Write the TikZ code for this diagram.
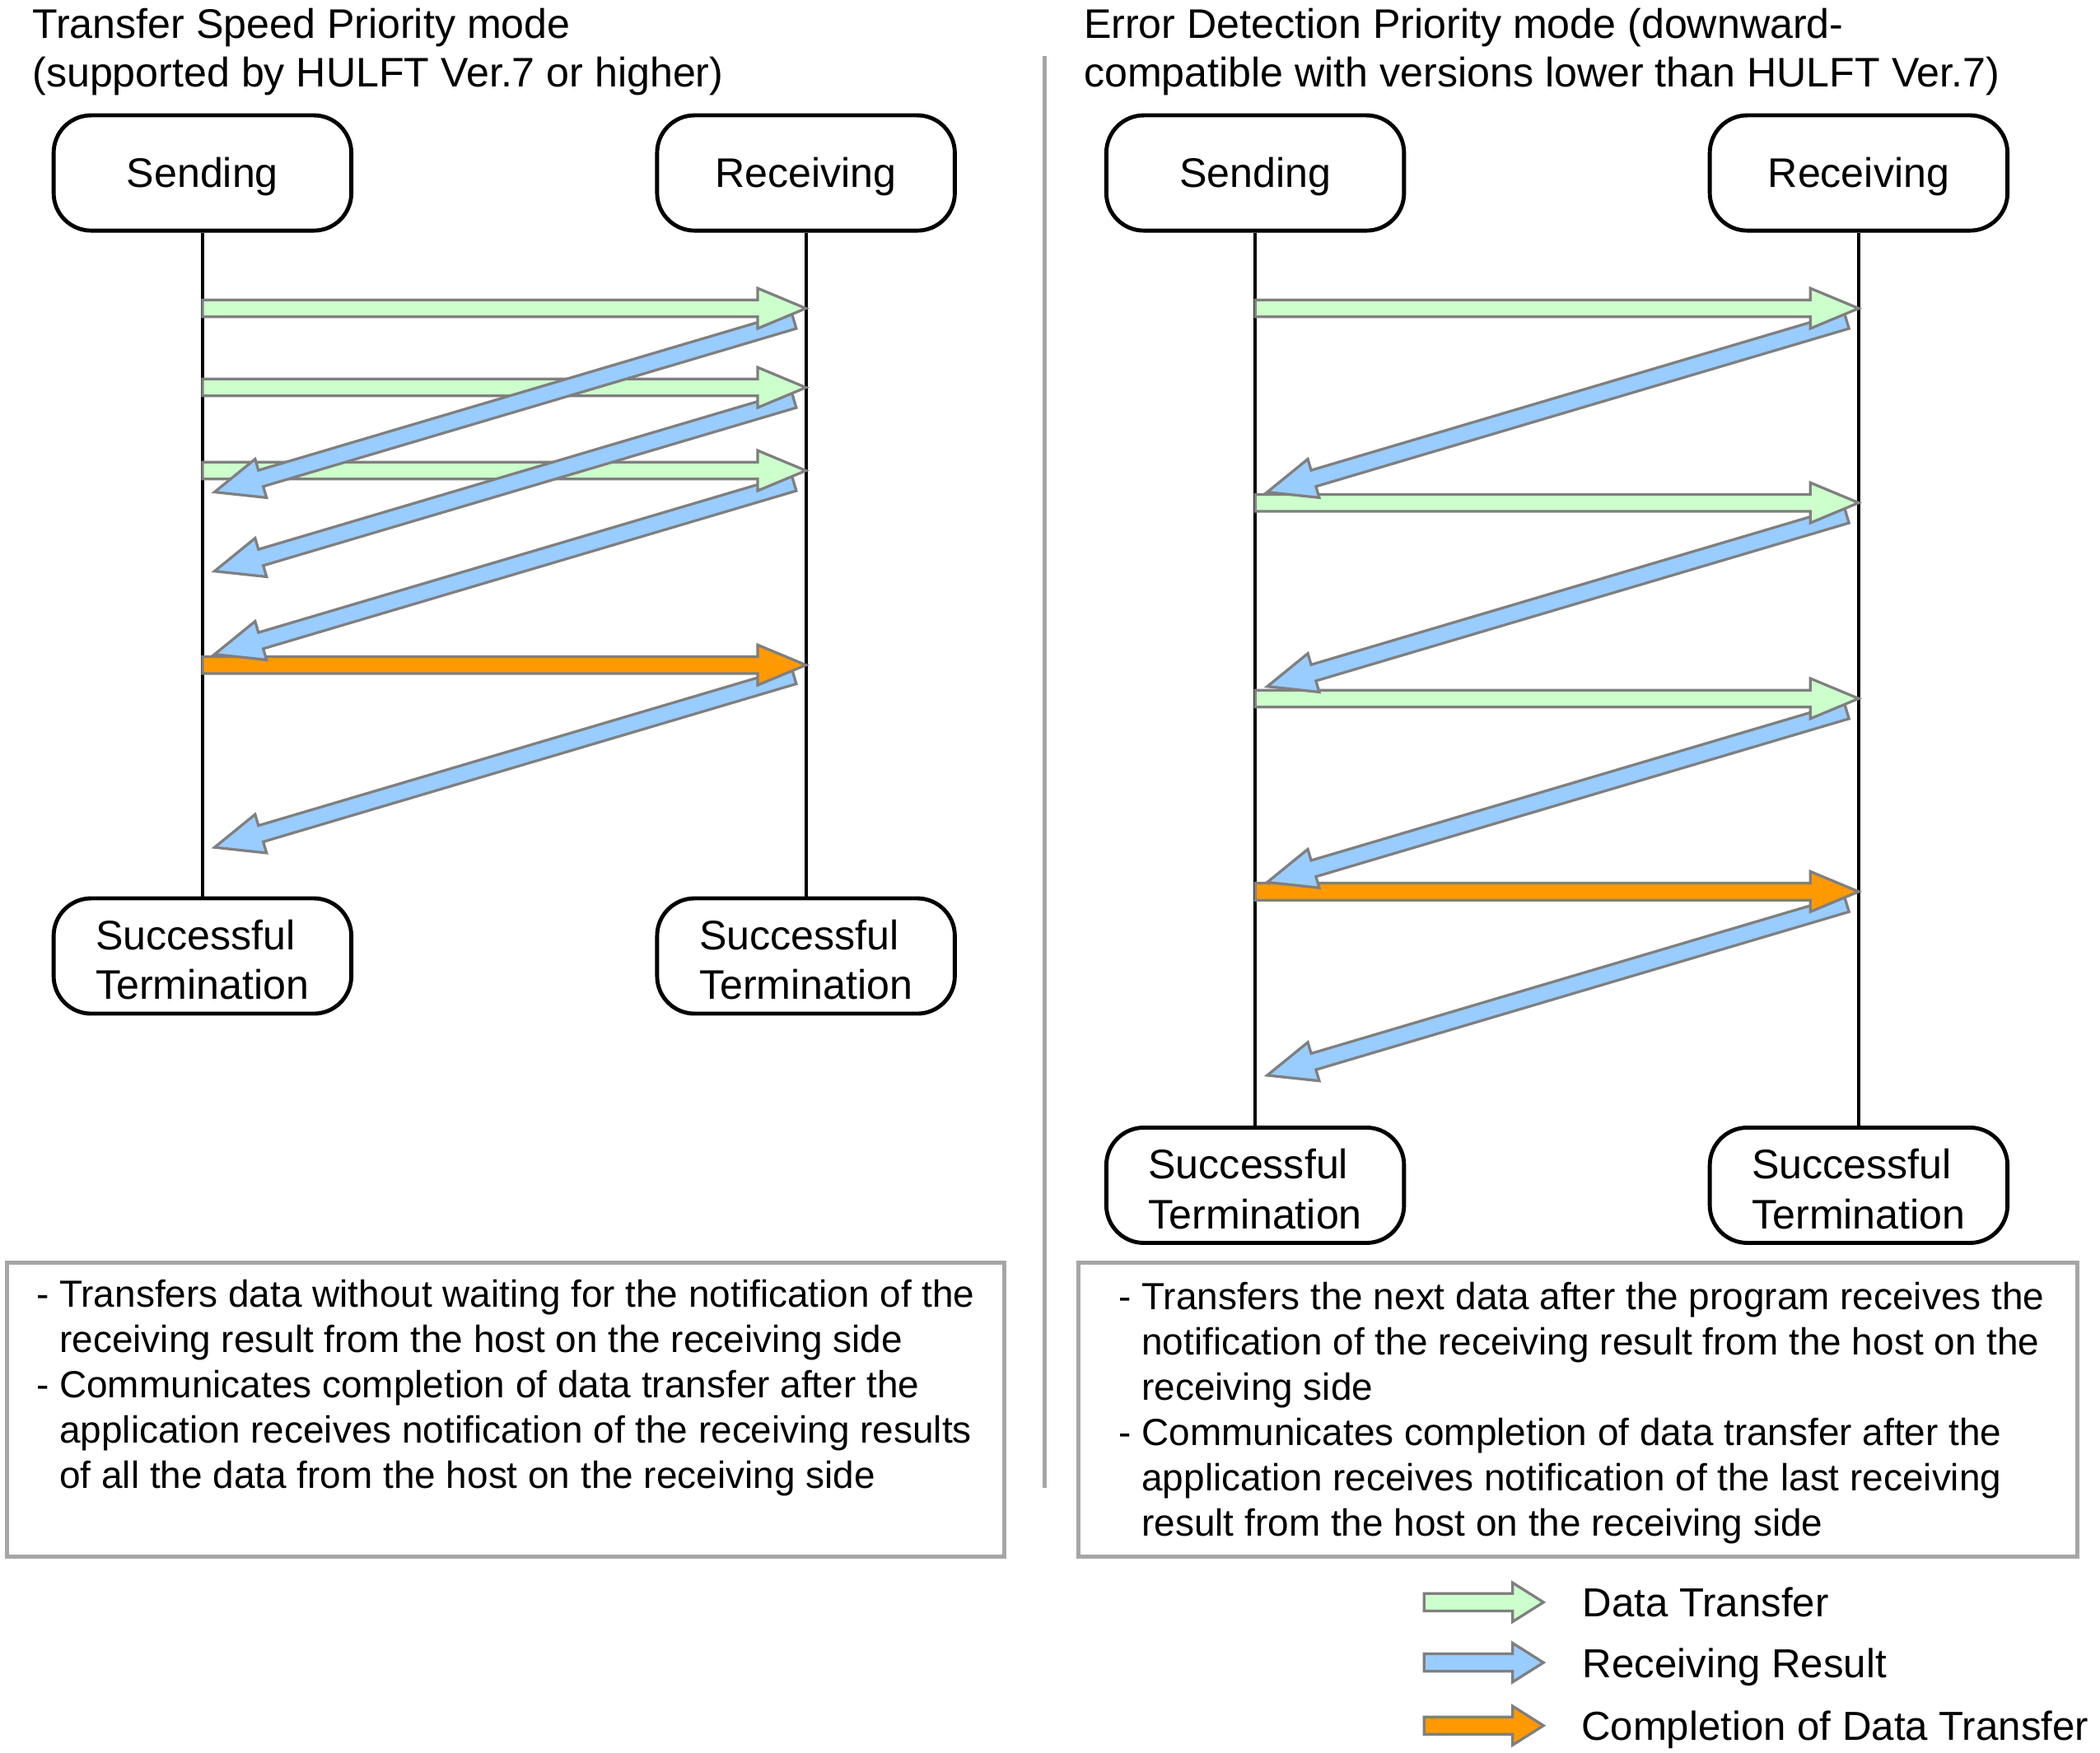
\documentclass[tikz,border=0pt]{standalone}
\usepackage{fontspec}
\setmainfont{Liberation Sans}
\usetikzlibrary{
  calc,         % Calculations $...$
  positioning,  % Function "of" (e.g. [right=of x])
}
\definecolor{datagreen}{HTML}{CCFFCC}
\definecolor{resultblue}{HTML}{99CCFF}
\definecolor{doneorange}{HTML}{FF9900}
\definecolor{edgegray}{HTML}{7F7F7F}
\definecolor{boxgray}{HTML}{A6A6A6}
\def\shaftw{6.3pt}
\def\headw{15pt}
\def\headl{36pt}
\newcommand{\indentline}{\hphantom{- }}
% Block arrow from #2 to #3, filled with #1
\newcommand{\fatarrow}[3]{%
  \path ($(#3)!\headl!(#2)$) coordinate (hb);
  \draw[fat arrow, fill=#1]
    ($(#2)!\shaftw!90:(#3)$) -- ($(hb)!\shaftw!-90:(#2)$) --
    ($(hb)!\headw!-90:(#2)$) -- (#3) --
    ($(hb)!\headw!90:(#2)$) -- ($(hb)!\shaftw!90:(#2)$) --
    ($(#2)!\shaftw!-90:(#3)$) -- cycle;
}
\tikzset{
  lane/.style={
    draw,
    line width=3pt,
    rounded corners=28pt,
    minimum width=222pt,
    minimum height=86pt,
    inner sep=2pt,
    align=left,
    font=\fontsize{30.8}{37}\selectfont,
    execute at begin node={\rule{0pt}{28pt}}
  },
  lane end/.style={
    lane,
    text height=65pt
  },
  lifeline/.style={
    line width=2.5pt
  },
  fat arrow/.style={
    draw=edgegray,
    line width=2pt,
    line join=miter
  },
  note box/.style={
    draw=boxgray,
    line width=3pt,
    minimum width=744pt,
    minimum height=219pt
  },
  note text/.style={
    anchor=north west,
    inner sep=0pt,
    align=left,
    font=\fontsize{28.2}{33.8}\selectfont
  },
  title/.style={
    anchor=north west,
    inner sep=0pt,
    align=left,
    font=\fontsize{30.8}{36}\selectfont
  },
  legend text/.style={
    anchor=base west,
    inner sep=0pt,
    font=\fontsize{30.2}{36}\selectfont
  },
  divider/.style={
    draw=boxgray,
    line width=2.5pt
  }
}

\begin{document}
\begin{tikzpicture}[x=1pt,y=-1pt]
\useasboundingbox (0,0) rectangle (1566,1307);
\fill[white] (0,0) rectangle (1566,1307);

% titles
\node[title] (titleL) at (24,6) {Transfer Speed Priority mode\\(supported by HULFT Ver.7 or higher)};
\node[title] (titleR) at (808,6) {Error Detection Priority mode (downward-\\compatible with versions lower than HULFT Ver.7)};
\draw[divider] (779,42) -- (779,1110);

% left panel
\node[lane]                          (sendL)  at (151,129) {Sending};
\node[lane, right=225pt of sendL]     (recvL)             {Receiving};
\node[lane end, below=495pt of sendL] (doneSL)            {Successful\\Termination};
\node[lane end, below=495pt of recvL] (doneRL)            {Successful\\Termination};
\draw[lifeline] (sendL) -- (doneSL);
\draw[lifeline] (recvL) -- (doneRL);

\coordinate (Ld1s) at (sendL.south |- 0,230); \coordinate (Ld1r) at (recvL.south |- 0,230);
\coordinate (Ld2s) at (sendL.south |- 0,289); \coordinate (Ld2r) at (recvL.south |- 0,289);
\coordinate (Ld3s) at (sendL.south |- 0,351); \coordinate (Ld3r) at (recvL.south |- 0,351);
\coordinate (Lcs)  at (sendL.south |- 0,496); \coordinate (Lcr)  at (recvL.south |- 0,496);
\coordinate (Lr1r) at ($(recvL.south |- 0,239)+(-9,0)$); \coordinate (Lr1s) at ($(sendL.south |- 0,367)+(9,0)$);
\coordinate (Lr2r) at ($(recvL.south |- 0,298)+(-9,0)$); \coordinate (Lr2s) at ($(sendL.south |- 0,426)+(9,0)$);
\coordinate (Lr3r) at ($(recvL.south |- 0,360)+(-9,0)$); \coordinate (Lr3s) at ($(sendL.south |- 0,488)+(9,0)$);
\coordinate (Lr4r) at ($(recvL.south |- 0,504)+(-9,0)$); \coordinate (Lr4s) at ($(sendL.south |- 0,632)+(9,0)$);

\fatarrow{resultblue}{Lr4r}{Lr4s}
\fatarrow{doneorange}{Lcs}{Lcr}
\fatarrow{resultblue}{Lr3r}{Lr3s}
\fatarrow{datagreen}{Ld3s}{Ld3r}
\fatarrow{resultblue}{Lr2r}{Lr2s}
\fatarrow{datagreen}{Ld2s}{Ld2r}
\fatarrow{resultblue}{Lr1r}{Lr1s}
\fatarrow{datagreen}{Ld1s}{Ld1r}

% right panel
\node[lane]                          (sendR)  at (936,129) {Sending};
\node[lane, right=225pt of sendR]     (recvR)             {Receiving};
\node[lane end, below=666pt of sendR] (doneSR)            {Successful\\Termination};
\node[lane end, below=666pt of recvR] (doneRR)            {Successful\\Termination};
\draw[lifeline] (sendR) -- (doneSR);
\draw[lifeline] (recvR) -- (doneRR);

\coordinate (Rd1s) at (sendR.south |- 0,230); \coordinate (Rd1r) at (recvR.south |- 0,230);
\coordinate (Rd2s) at (sendR.south |- 0,375); \coordinate (Rd2r) at (recvR.south |- 0,375);
\coordinate (Rd3s) at (sendR.south |- 0,521); \coordinate (Rd3r) at (recvR.south |- 0,521);
\coordinate (Rcs)  at (sendR.south |- 0,665); \coordinate (Rcr)  at (recvR.south |- 0,665);
\coordinate (Rr1r) at ($(recvR.south |- 0,239)+(-9,0)$); \coordinate (Rr1s) at ($(sendR.south |- 0,367)+(9,0)$);
\coordinate (Rr2r) at ($(recvR.south |- 0,384)+(-9,0)$); \coordinate (Rr2s) at ($(sendR.south |- 0,512)+(9,0)$);
\coordinate (Rr3r) at ($(recvR.south |- 0,530)+(-9,0)$); \coordinate (Rr3s) at ($(sendR.south |- 0,658)+(9,0)$);
\coordinate (Rr4r) at ($(recvR.south |- 0,674)+(-9,0)$); \coordinate (Rr4s) at ($(sendR.south |- 0,802)+(9,0)$);

\fatarrow{resultblue}{Rr4r}{Rr4s}
\fatarrow{doneorange}{Rcs}{Rcr}
\fatarrow{resultblue}{Rr3r}{Rr3s}
\fatarrow{datagreen}{Rd3s}{Rd3r}
\fatarrow{resultblue}{Rr2r}{Rr2s}
\fatarrow{datagreen}{Rd2s}{Rd2r}
\fatarrow{resultblue}{Rr1r}{Rr1s}
\fatarrow{datagreen}{Rd1s}{Rd1r}

% notes
\node[note box] (boxL) at (377,1051.5) {};
\node[note text] (noteL) at (27,954) {- Transfers data without waiting for the notification of the\\
  \indentline receiving result from the host on the receiving side\\
  - Communicates completion of data transfer after the\\
  \indentline application receives notification of the receiving results\\
  \indentline of all the data from the host on the receiving side};
\node[note box, minimum width=745pt] (boxR) at (1176.5,1051.5) {};
\node[note text] (noteR) at (834,956) {- Transfers the next data after the program receives the\\
  \indentline notification of the receiving result from the host on the\\
  \indentline receiving side\\
  - Communicates completion of data transfer after the\\
  \indentline application receives notification of the last receiving\\
  \indentline result from the host on the receiving side};

% legend
\begin{scope}
\def\headl{23pt}
\def\headw{14.5pt}
\def\shaftw{6.5pt}
\coordinate (lg1a) at (1062,1195); \coordinate (lg1b) at (1151,1195);
\coordinate (lg2a) at (1062,1240); \coordinate (lg2b) at (1151,1240);
\coordinate (lg3a) at (1062,1287); \coordinate (lg3b) at (1151,1287);
\fatarrow{datagreen}{lg1a}{lg1b}
\fatarrow{resultblue}{lg2a}{lg2b}
\fatarrow{doneorange}{lg3a}{lg3b}
\node[legend text] (lgt1) at ($(lg1b)+(29,11)$) {Data Transfer};
\node[legend text] (lgt2) at ($(lg2b)+(29,11)$) {Receiving Result};
\node[legend text] (lgt3) at ($(lg3b)+(28,11)$) {Completion of Data Transfer};
\end{scope}
\end{tikzpicture}
\end{document}
